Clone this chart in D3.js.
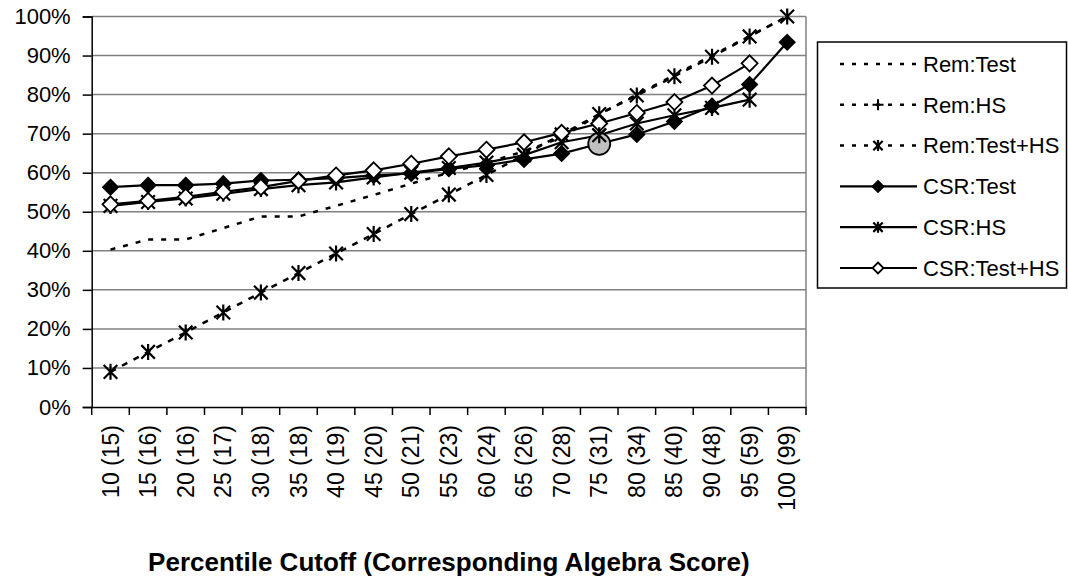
<!DOCTYPE html>
<html>
<head>
<meta charset="utf-8">
<script src="https://cdn.jsdelivr.net/npm/d3@7"></script>
<style>
  body { margin: 0; background: #fff; }
  svg { display: block; font-family: "Liberation Sans", Arial, sans-serif; }
</style>
</head>
<body>
<svg id="chart"></svg>
<script>
const categories = ["10 (15)", "15 (16)", "20 (16)", "25 (17)", "30 (18)", "35 (18)", "40 (19)",
  "45 (20)", "50 (21)", "55 (23)", "60 (24)", "65 (26)", "70 (28)", "75 (31)", "80 (34)",
  "85 (40)", "90 (48)", "95 (59)", "100 (99)"];

const remTest = [40.3, 42.9, 42.9, 45.8, 48.8, 48.8, 51.5, 54.3, 57.2, 60.0, 62.5, 65.5, 69.0, 75.0, 80.0, 85.0, 90.0, 95.0, 100];
const remHS = [];
const remTestHS = [9.0, 14.1, 19.1, 24.2, 29.3, 34.3, 39.3, 44.3, 49.4, 54.4, 59.4, 64.6, 69.8, 75.0, 79.8, 84.7, 89.7, 94.9, 100];
const csrTest = [56.3, 56.8, 56.8, 57.2, 58.0, 58.2, 58.6, 59.3, 59.8, 61.0, 61.9, 63.4, 64.9, 67.4, 69.8, 73.1, 77.1, 82.6, 93.4];
const csrHS = [51.5, 52.5, 53.4, 54.6, 55.8, 56.8, 57.5, 58.8, 60.0, 61.2, 62.6, 64.5, 67.8, 69.6, 72.6, 74.7, 76.6, 78.7, null];
const csrTestHS = [51.9, 52.8, 53.8, 55.1, 56.3, 57.9, 59.3, 60.6, 62.3, 64.2, 65.9, 67.8, 70.2, 72.6, 75.3, 78.1, 82.3, 88.0, null];

const yTicks = [0, 10, 20, 30, 40, 50, 60, 70, 80, 90, 100];
const xTitle = "Percentile Cutoff (Corresponding Algebra Score)";
const highlight = { category: "75 (31)", value: 67.4 };

const series = [
  { name: "Rem:Test", values: remTest, dash: "5,8", marker: null },
  { name: "Rem:HS", values: remHS, dash: "5,8", marker: "plus" },
  { name: "Rem:Test+HS", values: remTestHS, dash: "6,7", marker: "star" },
  { name: "CSR:Test", values: csrTest, dash: null, marker: "diamondFill" },
  { name: "CSR:HS", values: csrHS, dash: null, marker: "star" },
  { name: "CSR:Test+HS", values: csrTestHS, dash: null, marker: "diamondOpen" }
];

const dimensions = {
  width: 1068,
  height: 579,
  margin: { top: 16.5, bottom: 172, left: 91.7, right: 262 }
};

const svg = d3.select("#chart")
  .attr("width", dimensions.width)
  .attr("height", dimensions.height);

const xScale = d3.scaleBand()
  .domain(categories)
  .range([dimensions.margin.left, dimensions.width - dimensions.margin.right]);

const yScale = d3.scaleLinear()
  .domain([0, 100])
  .range([dimensions.height - dimensions.margin.bottom, dimensions.margin.top]);

const cx = c => xScale(c) + xScale.bandwidth() / 2;

// gridlines
svg.append("g")
  .selectAll("line")
  .data(yTicks.filter(t => t > 0))
  .join("line")
  .attr("x1", dimensions.margin.left)
  .attr("x2", dimensions.width - dimensions.margin.right)
  .attr("y1", d => yScale(d))
  .attr("y2", d => yScale(d))
  .attr("stroke", "#808080")
  .attr("stroke-width", 1.5);

// right border of plot area
svg.append("line")
  .attr("x1", dimensions.width - dimensions.margin.right)
  .attr("x2", dimensions.width - dimensions.margin.right)
  .attr("y1", yScale(100))
  .attr("y2", yScale(0))
  .attr("stroke", "#808080")
  .attr("stroke-width", 1.5);

// axes
const axisY = d3.axisLeft(yScale)
  .tickValues(yTicks)
  .tickSize(9)
  .tickPadding(12)
  .tickFormat(d => d + "%");

svg.append("g")
  .attr("transform", `translate(${dimensions.margin.left},0)`)
  .call(axisY)
  .call(g => g.select(".domain").attr("stroke", "#000").attr("stroke-width", 1.5))
  .call(g => g.selectAll(".tick line").attr("stroke", "#000").attr("stroke-width", 1.5))
  .call(g => g.selectAll("text")
    .attr("font-size", 22)
    .attr("fill", "#000")
    .attr("font-family", "Liberation Sans, Arial, sans-serif"));

const axisX = d3.axisBottom(xScale).tickSize(0).tickFormat("");

const xAxisG = svg.append("g")
  .attr("transform", `translate(0,${yScale(0)})`)
  .call(axisX)
  .call(g => g.select(".domain").attr("stroke", "#000").attr("stroke-width", 1.5));

// tick marks between categories
xAxisG.append("g")
  .selectAll("line")
  .data(categories.concat(["end"]))
  .join("line")
  .attr("x1", (d, i) => dimensions.margin.left + i * xScale.step())
  .attr("x2", (d, i) => dimensions.margin.left + i * xScale.step())
  .attr("y1", 0)
  .attr("y2", 8)
  .attr("stroke", "#000")
  .attr("stroke-width", 1.5);

// rotated category labels
svg.append("g")
  .selectAll("text")
  .data(categories)
  .join("text")
  .attr("transform", d => `translate(${cx(d)},${yScale(0) + 18}) rotate(-90)`)
  .attr("text-anchor", "end")
  .attr("dy", "0.35em")
  .attr("font-size", 23)
  .text(d => d);

svg.append("text")
  .attr("x", (dimensions.margin.left + dimensions.width - dimensions.margin.right) / 2)
  .attr("y", 571)
  .attr("text-anchor", "middle")
  .attr("font-size", 26)
  .attr("font-weight", "bold")
  .text(xTitle);

// markers
function drawMarker(g, type, size) {
  if (type === "diamondFill" || type === "diamondOpen") {
    g.append("path")
      .attr("d", `M0,${-size}L${size},0L0,${size}L${-size},0Z`)
      .attr("fill", type === "diamondFill" ? "#000" : "#fff")
      .attr("stroke", "#000")
      .attr("stroke-width", 1.8);
  } else if (type === "star") {
    const s = size * 0.85;
    g.append("path")
      .attr("d", `M0,${-size}V${size}M${-s},${-s}L${s},${s}M${-s},${s}L${s},${-s}`)
      .attr("fill", "none")
      .attr("stroke", "#000")
      .attr("stroke-width", 2.2);
  } else if (type === "plus") {
    g.append("path")
      .attr("d", `M0,${-size}V${size}M${-size},0H${size}`)
      .attr("fill", "none")
      .attr("stroke", "#000")
      .attr("stroke-width", 2);
  }
}

const line = d3.line()
  .defined(d => d.value !== null && d.value !== undefined)
  .x(d => cx(d.category))
  .y(d => yScale(d.value));

const markerSize = { diamondFill: 7.5, diamondOpen: 8, star: 8, plus: 7 };

series.forEach(s => {
  const pts = s.values.map((v, i) => ({ category: categories[i], value: v }))
    .filter(p => p.value !== null && p.value !== undefined);
  if (!pts.length) return;
  svg.append("path")
    .datum(pts)
    .attr("d", line)
    .attr("fill", "none")
    .attr("stroke", "#000")
    .attr("stroke-width", s.dash ? 2.5 : 2.2)
    .attr("stroke-dasharray", s.dash);
});

series.forEach(s => {
  if (!s.marker) return;
  const pts = s.values.map((v, i) => ({ category: categories[i], value: v }))
    .filter(p => p.value !== null && p.value !== undefined);
  pts.forEach(p => {
    const g = svg.append("g")
      .attr("transform", `translate(${cx(p.category)},${yScale(p.value)})`);
    drawMarker(g, s.marker, markerSize[s.marker]);
  });
});

// highlighted point
svg.append("circle")
  .attr("cx", cx(highlight.category))
  .attr("cy", yScale(highlight.value))
  .attr("r", 11)
  .attr("fill", "#c0c0c0")
  .attr("stroke", "#000")
  .attr("stroke-width", 1.8);

const csrHSIdx = categories.indexOf(highlight.category);
drawMarker(
  svg.append("g").attr("transform", `translate(${cx(highlight.category)},${yScale(csrHS[csrHSIdx])})`),
  "star", 8
);

// legend
const legend = svg.append("g");
legend.append("rect")
  .attr("x", 817.5)
  .attr("y", 42)
  .attr("width", 249)
  .attr("height", 246)
  .attr("fill", "#fff")
  .attr("stroke", "#000")
  .attr("stroke-width", 1.5);

series.forEach((s, i) => {
  const y = 64 + i * 40.8;
  const item = legend.append("g");
  item.append("line")
    .attr("x1", 840)
    .attr("x2", 917)
    .attr("y1", y)
    .attr("y2", y)
    .attr("stroke", "#000")
    .attr("stroke-width", s.dash ? 2.5 : 2.2)
    .attr("stroke-dasharray", s.dash ? "4,8" : null);
  if (s.marker) {
    drawMarker(item.append("g").attr("transform", `translate(878,${y})`), s.marker, 5.5);
  }
  item.append("text")
    .attr("x", 923)
    .attr("y", y)
    .attr("dy", "0.35em")
    .attr("font-size", 22)
    .text(s.name);
});
</script>
</body>
</html>
